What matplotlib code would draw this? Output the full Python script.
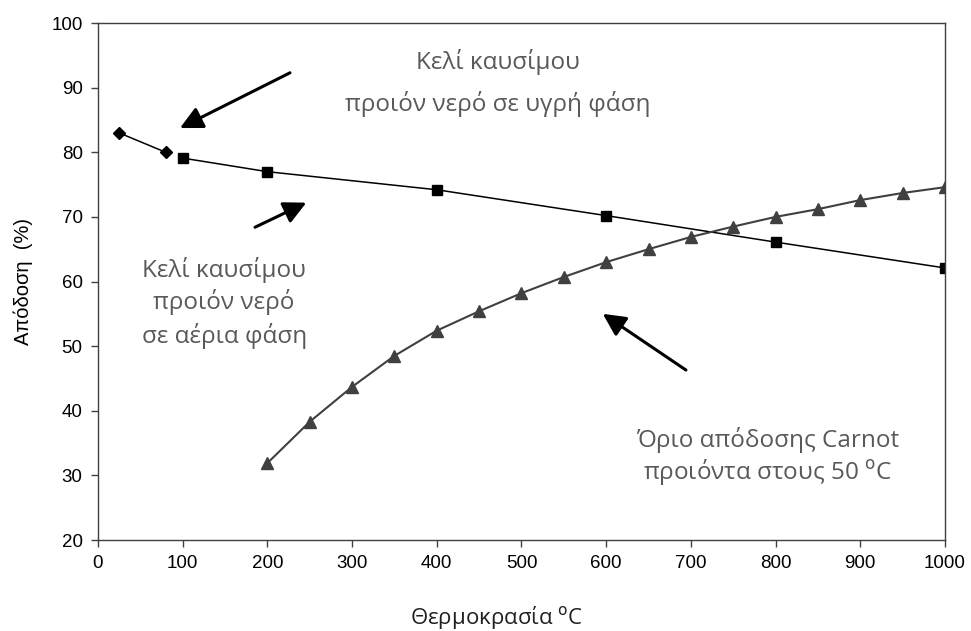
import matplotlib.pyplot as plt

# κελί καυσίμου, νερό σε αέρια φάση (ρόμβοι)
t_gas = [25, 80]
eff_gas = [83, 80]

# κελί καυσίμου, νερό σε υγρή φάση (τετράγωνα)
t_liq = [100, 200, 400, 600, 800, 1000]
eff_liq = [79.1, 77, 74.2, 70.2, 66.1, 62.1]

# όριο Carnot (τρίγωνα)
t_carnot = [200, 250, 300, 350, 400, 450, 500, 550, 600, 650, 700, 750, 800, 850, 900, 950, 1000]
eff_carnot = [31.9, 38.3, 43.7, 48.5, 52.4, 55.4, 58.2, 60.7, 63.0, 65.0, 66.9, 68.5, 70.0, 71.2, 72.6, 73.7, 74.6]

x_ticks = list(range(0, 1001, 100))
y_ticks = list(range(20, 101, 10))

plt.rcParams['font.family'] = ['Liberation Sans', 'DejaVu Sans']

fig = plt.figure(figsize=(9.71, 6.31), dpi=100)
ax = fig.add_axes([0.1009, 0.1442, 0.8723, 0.8193])

ax.plot(t_gas, eff_gas, color='black', lw=1.1, marker='D', ms=6)
ax.plot(t_liq, eff_liq, color='black', lw=1.1, marker='s', ms=7.5)
ax.plot(t_carnot, eff_carnot, color='#404040', lw=1.5, marker='^', ms=9)

ax.set_xlim(0, 1000)
ax.set_ylim(20, 100)
ax.set_xticks(x_ticks)
ax.set_yticks(y_ticks)
ax.tick_params(direction='out', length=5, width=1, color='#404040', labelsize=13.5, pad=6)
for s in ax.spines.values():
    s.set_color('#404040')
    s.set_linewidth(1)

ax.set_ylabel('Απόδοση  (%)', fontsize=14.5, va='center')
ax.yaxis.set_label_coords(-0.088, 0.5)
ax.set_xlabel('Θερμοκρασία $^{\\mathrm{o}}$C', fontsize=16, family=['Open Sans', 'DejaVu Sans'],
              color='#202020', va='baseline')
ax.xaxis.set_label_coords(0.471, -0.163)

txt = dict(family=['Open Sans', 'DejaVu Sans'], fontsize=17.5, color='#595959', ha='center', va='center')
ax.text(472, 93.97, 'Κελί καυσίμου', **txt)
ax.text(472, 87.47, 'προιόν νερό σε υγρή φάση', **txt)
ax.text(149, 61.8, 'Κελί καυσίμου', **txt)
ax.text(149, 56.8, 'προιόν νερό', **txt)
ax.text(149, 51.6, 'σε αέρια φάση', **txt)
ax.text(791, 35.5, 'Όριο απόδοσης Carnot', **txt)
ax.text(791, 30.5, 'προιόντα στους 50 $^{\\mathrm{o}}$C', **txt)

arr = dict(arrowstyle='-|>', mutation_scale=34, lw=2.2, color='black', shrinkA=0, shrinkB=0)
ax.annotate('', xy=(96.8, 83.75), xytext=(226.7, 92.3), arrowprops=arr)
ax.annotate('', xy=(246, 72.2), xytext=(185.4, 68.4), arrowprops=arr)
ax.annotate('', xy=(596, 55.0), xytext=(694.2, 46.3), arrowprops=arr)

fig.savefig('out.png', dpi=100)
